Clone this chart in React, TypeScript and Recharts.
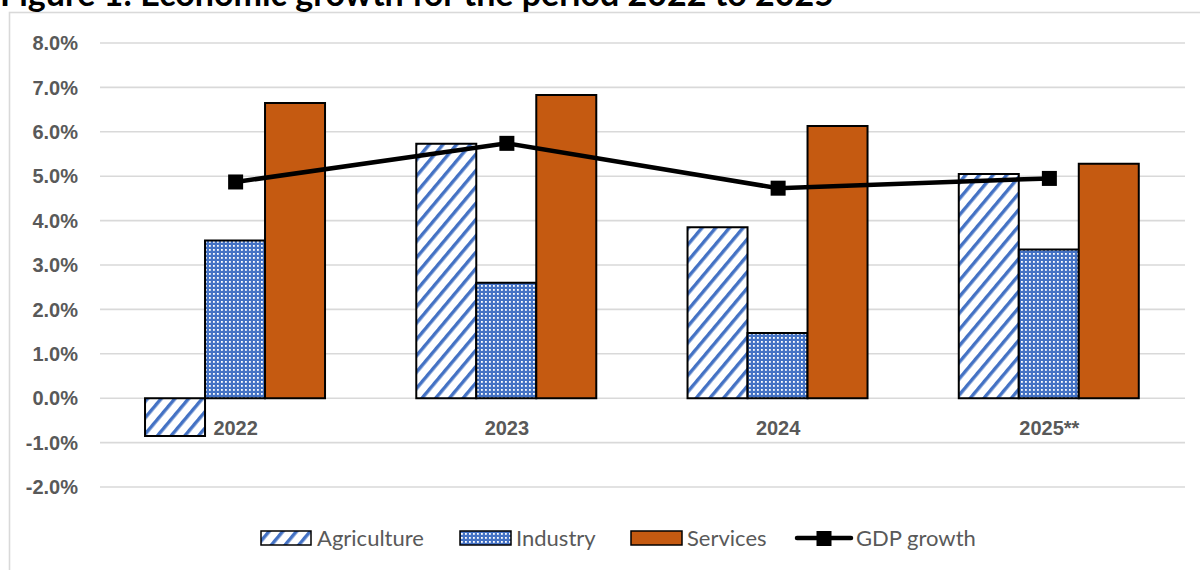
import React from 'react';
import { ComposedChart, Bar, Line, XAxis, YAxis, CartesianGrid } from 'recharts';

const categories = ['2022', '2023', '2024', '2025**'];
const agriculture = [-0.85, 5.73, 3.85, 5.05];
const industry = [3.55, 2.6, 1.47, 3.35];
const services = [6.65, 6.83, 6.13, 5.28];
const gdpGrowth = [4.87, 5.74, 4.73, 4.95];
const yTicks = [-2, -1, 0, 1, 2, 3, 4, 5, 6, 7, 8];
const seriesNames = ['Agriculture', 'Industry', 'Services', 'GDP growth'];
const titleText = 'Figure 1: Economic growth for the period 2022 to 2025';

const data = categories.map((c, i) => ({
  category: c,
  agriculture: agriculture[i],
  industry: industry[i],
  services: services[i],
  gdp: gdpGrowth[i],
}));

const W = 1200;
const H = 570;
const PLOT_TOP = 43;
const PLOT_BOTTOM = 487;
const Y_MIN = yTicks[0];
const Y_MAX = yTicks[yTicks.length - 1];
const ZERO_Y = PLOT_TOP + ((Y_MAX - 0) / (Y_MAX - Y_MIN)) * (PLOT_BOTTOM - PLOT_TOP);

const BLUE = '#4472C4';
const ORANGE = '#C55A11';
const GRAY_TEXT = '#595959';
const GRID = '#d9d9d9';

const Patterns = ({ suffix }: { suffix: string }) => (
  <defs>
    <pattern id={`agri${suffix}`} patternUnits="userSpaceOnUse" width="10.5" height="10.5" patternTransform="rotate(40)">
      <rect width="10.5" height="10.5" fill="#ffffff" />
      <rect x="0" y="0" width="3.4" height="10.5" fill={BLUE} />
    </pattern>
    <pattern id={`ind${suffix}`} patternUnits="userSpaceOnUse" width="4" height="4">
      <rect width="4" height="4" fill={BLUE} />
      <rect x="1" y="1" width="1.8" height="1.8" fill="#ffffff" />
    </pattern>
  </defs>
);

const XTick = (props: any) => {
  const { x, payload } = props;
  return (
    <text
      x={x}
      y={ZERO_Y + 37}
      textAnchor="middle"
      fill={GRAY_TEXT}
      fontSize={20}
      fontWeight={700}
      fontFamily="'Liberation Sans', Arial, sans-serif"
    >
      {payload.value}
    </text>
  );
};

const SquareDot = (props: any) => {
  const { cx, cy } = props;
  if (cx == null || cy == null) return null;
  return <rect x={cx - 7.5} y={cy - 7.5} width={15} height={15} fill="#000" />;
};

const legendFont = "Lato, 'Open Sans', sans-serif";

const Overlay = () => (
  <svg width={W} height={H} style={{ position: 'absolute', left: 0, top: 0 }}>
    <Patterns suffix="L" />
    <rect x={9.5} y={12.5} width={1300} height={700} fill="#ffffff" stroke={GRID} strokeWidth={1.6} />
    <text x={0} y={6} fontFamily="Lato, 'Open Sans', sans-serif" fontWeight={700} fontSize={34} fill="#000">
      {titleText}
    </text>
    {/* Legend */}
    <rect x={261} y={531} width={50} height={14} fill="url(#agriL)" stroke="#000" strokeWidth={1.5} />
    <text x={317} y={546} fontFamily={legendFont} fontSize={22} fill={GRAY_TEXT}>{seriesNames[0]}</text>
    <rect x={460} y={531} width={51} height={14} fill="url(#indL)" stroke="#000" strokeWidth={1.5} />
    <text x={516} y={546} fontFamily={legendFont} fontSize={22} fill={GRAY_TEXT}>{seriesNames[1]}</text>
    <rect x={631} y={531} width={51} height={14} fill={ORANGE} stroke="#000" strokeWidth={1.5} />
    <text x={687} y={546} fontFamily={legendFont} fontSize={22} fill={GRAY_TEXT}>{seriesNames[2]}</text>
    <line x1={797} y1={538} x2={851} y2={538} stroke="#000" strokeWidth={4.5} strokeLinecap="round" />
    <rect x={816.5} y={531} width={15} height={15} fill="#000" />
    <text x={856} y={546} fontFamily={legendFont} fontSize={22} fill={GRAY_TEXT}>{seriesNames[3]}</text>
  </svg>
);

export default function App() {
  return (
    <div style={{ position: 'fixed', left: 0, top: 0, width: W, height: H, overflow: 'hidden', background: '#fff' }}>
      <Overlay />
      <div style={{ position: 'absolute', left: 0, top: 0 }}>
        <ComposedChart
          width={W}
          height={H}
          data={data}
          margin={{ top: PLOT_TOP, right: 15, left: 0, bottom: H - PLOT_BOTTOM - 30 }}
          barCategoryGap="16.6%"
          barGap={0}
        >
          <Patterns suffix="C" />
          <CartesianGrid vertical={false} stroke={GRID} strokeWidth={1.6} />
          <XAxis
            dataKey="category"
            axisLine={false}
            tickLine={false}
            height={30}
            interval={0}
            tick={<XTick />}
          />
          <YAxis
            width={100}
            domain={[Y_MIN, Y_MAX]}
            ticks={yTicks}
            interval={0}
            axisLine={false}
            tickLine={false}
            tickSize={0}
            tickMargin={22}
            tickFormatter={(v: number) => `${v.toFixed(1)}%`}
            tick={{ fill: GRAY_TEXT, fontSize: 20, fontWeight: 700, fontFamily: "'Liberation Sans', Arial, sans-serif" }}
          />
          <Bar dataKey="agriculture" name={seriesNames[0]} fill="url(#agriC)" stroke="#000" strokeWidth={2} isAnimationActive={false} />
          <Bar dataKey="industry" name={seriesNames[1]} fill="url(#indC)" stroke="#000" strokeWidth={2} isAnimationActive={false} />
          <Bar dataKey="services" name={seriesNames[2]} fill={ORANGE} stroke="#000" strokeWidth={2} isAnimationActive={false} />
          <Line
            dataKey="gdp"
            name={seriesNames[3]}
            stroke="#000"
            strokeWidth={4.5}
            dot={<SquareDot />}
            activeDot={false}
            isAnimationActive={false}
          />
        </ComposedChart>
      </div>
    </div>
  );
}
